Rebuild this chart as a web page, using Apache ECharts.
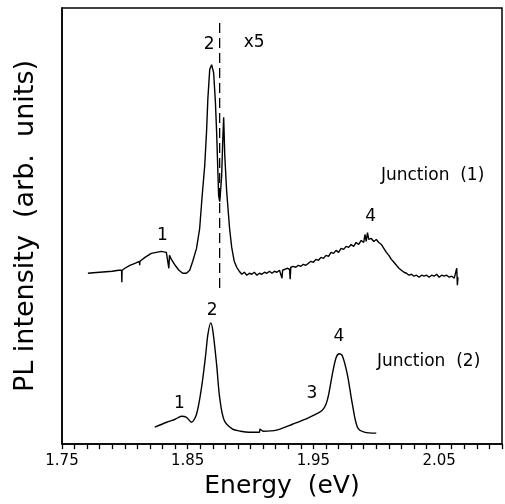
<!DOCTYPE html>
<html>
<head>
<meta charset="utf-8">
<script src="https://cdn.jsdelivr.net/npm/echarts@6/dist/echarts.min.js"></script>
<style>html,body{margin:0;padding:0;background:#fff}#c{width:505px;height:504px}</style>
</head>
<body>
<div id="c"></div>
<script>
// Junction (1) spectrum (x5 region included), energy in eV, intensity in arb. units
var j1Energy = [1.7706,1.775,1.780,1.785,1.790,1.795,1.7974,1.7976,1.7978,1.800,1.804,1.808,1.8116,1.8118,1.812,1.816,1.821,1.825,1.829,1.833,1.8345,1.835,1.8355,1.837,1.840,1.843,1.846,1.849,1.8516,1.854,1.857,1.8595,1.8615,1.8635,1.865,1.866,1.8675,1.869,1.8706,1.872,1.873,1.8746,1.8755,1.877,1.878,1.8786,1.8795,1.881,1.8833,1.885,1.887,1.889,1.891,1.893,1.895,1.897,1.899,1.901,1.903,1.905,1.907,1.909,1.911,1.913,1.915,1.917,1.919,1.921,1.923,1.9245,1.925,1.9255,1.927,1.929,1.931,1.9315,1.932,1.934,1.936,1.938,1.940,1.942,1.944,1.946,1.948,1.950,1.952,1.954,1.956,1.958,1.960,1.962,1.964,1.966,1.968,1.970,1.972,1.974,1.976,1.978,1.980,1.982,1.984,1.986,1.988,1.990,1.991,1.992,1.993,1.994,1.996,1.998,2.000,2.002,2.004,2.006,2.008,2.010,2.012,2.014,2.016,2.018,2.020,2.022,2.024,2.026,2.028,2.030,2.032,2.034,2.036,2.038,2.040,2.042,2.044,2.046,2.048,2.050,2.052,2.054,2.056,2.058,2.060,2.062,2.0635,2.064,2.0645,2.065];
var j1Intensity = [172,172.5,173,173.5,174,175,175,163,175,177,180,182,184,180,184,188,192,193,194,193,192,177,190,186,180,175,172,172,175,184,197,217,250,280,315,347,377,382,374,345,314,250,244,270,310,329,290,254,217,198,184,178,174,171,173,170,172,171,173,170,172,171,173,172,174,172,174,173,175,174,167,175,176,177,176,166,178,179,178,180,179,181,180,182,184,183,186,185,188,187,190,189,193,192,195,193,197,196,199,198,201,199,203,201,205,203,211,204,213,206,207,204,206,203,201,197,193,190,186,183,180,177,175,173,172,170,171,169,170,168,170,169,170,168,170,169,171,168,170,169,170,168,169,167,168,177,160,168];

// Junction (2) spectrum
var j2Energy = [1.8238,1.8333,1.840,1.845,1.849,1.853,1.857,1.861,1.8643,1.866,1.8683,1.870,1.873,1.8754,1.879,1.8857,1.892,1.899,1.905,1.907,1.9075,1.910,1.9206,1.9333,1.9468,1.957,1.961,1.965,1.968,1.9706,1.973,1.977,1.981,1.985,1.9905,2.000];
var j2Intensity = [17,22,25,28,27,22,30,57,90,110,122,114,80,47,24,15,13,12,12,12,15,13,14,20,27,34,44,70,87,91,89,70,40,17,12,11];

// dashed marker line (x5 boundary)
var dashEnergy = [1.8754,1.8754];
var dashIntensity = [424,155];

// annotations [energy, intensity, text]
var annoEnergy = [1.8675,1.9032,1.8302,1.996,2.0452,1.8698,1.8437,1.9492,1.9706,2.042];
var annoIntensity = [402,404,209,229,270,134,40,50,108,83];
var annoText = ['2','x5','1','4','Junction  (1)','2','1','3','4','Junction  (2)'];

// x tick labels shown
var tickLabels = ['1.75','1.85','1.95','2.05'];

function pairs(a,b){return a.map(function(v,i){return [v,b[i]];});}

var chart = echarts.init(document.getElementById('c'), null, {renderer:'canvas'});
var FONT = 'DejaVu Sans';
var lineStyle = {color:'#000', width:1.4};
chart.setOption({
  animation:false,
  backgroundColor:'#fff',
  grid:{left:62,right:2,top:8,bottom:57,show:true,borderColor:'#000',borderWidth:1.5,backgroundColor:'transparent'},
  xAxis:{
    type:'value',min:1.75,max:2.10,interval:0.01,
    name:'Energy  (eV)',nameLocation:'middle',nameGap:25,
    nameTextStyle:{fontFamily:FONT,fontSize:25,color:'#000'},
    axisLine:{show:true,lineStyle:{color:'#000',width:1.5}},
    axisTick:{show:true,length:5,inside:false,lineStyle:{color:'#000',width:1.3}},
    splitLine:{show:false},
    axisLabel:{show:true,margin:10,fontFamily:FONT,fontSize:15,color:'#000',showMinLabel:true,showMaxLabel:true,
      formatter:function(v){var s=v.toFixed(2);return tickLabels.indexOf(s)>=0?s:'';}}
  },
  yAxis:{
    type:'value',min:0,max:439,
    name:'PL intensity  (arb.  units)',nameLocation:'middle',nameGap:23,
    nameTextStyle:{fontFamily:FONT,fontSize:27,color:'#000'},
    axisLine:{show:true,lineStyle:{color:'#000',width:1.5}},
    axisTick:{show:false},axisLabel:{show:false},splitLine:{show:false}
  },
  series:[
    {type:'line',data:pairs(j1Energy,j1Intensity),showSymbol:false,symbol:'none',lineStyle:lineStyle,z:3},
    {type:'line',data:pairs(j2Energy,j2Intensity),showSymbol:false,symbol:'none',smooth:0.3,lineStyle:lineStyle,z:3},
    {type:'line',data:pairs(dashEnergy,dashIntensity),showSymbol:false,symbol:'none',lineStyle:{color:'#000',width:1.3,type:[10,5]},z:2},
    {type:'scatter',symbolSize:1,itemStyle:{opacity:0},z:5,silent:true,
      data:annoEnergy.map(function(e,i){return {value:[e,annoIntensity[i]],name:annoText[i]};}),
      label:{show:true,position:[0,0],align:'center',verticalAlign:'middle',formatter:'{b}',fontFamily:FONT,fontSize:17,color:'#000',opacity:1,textBorderWidth:0}}
  ]
});
</script>
</body>
</html>
